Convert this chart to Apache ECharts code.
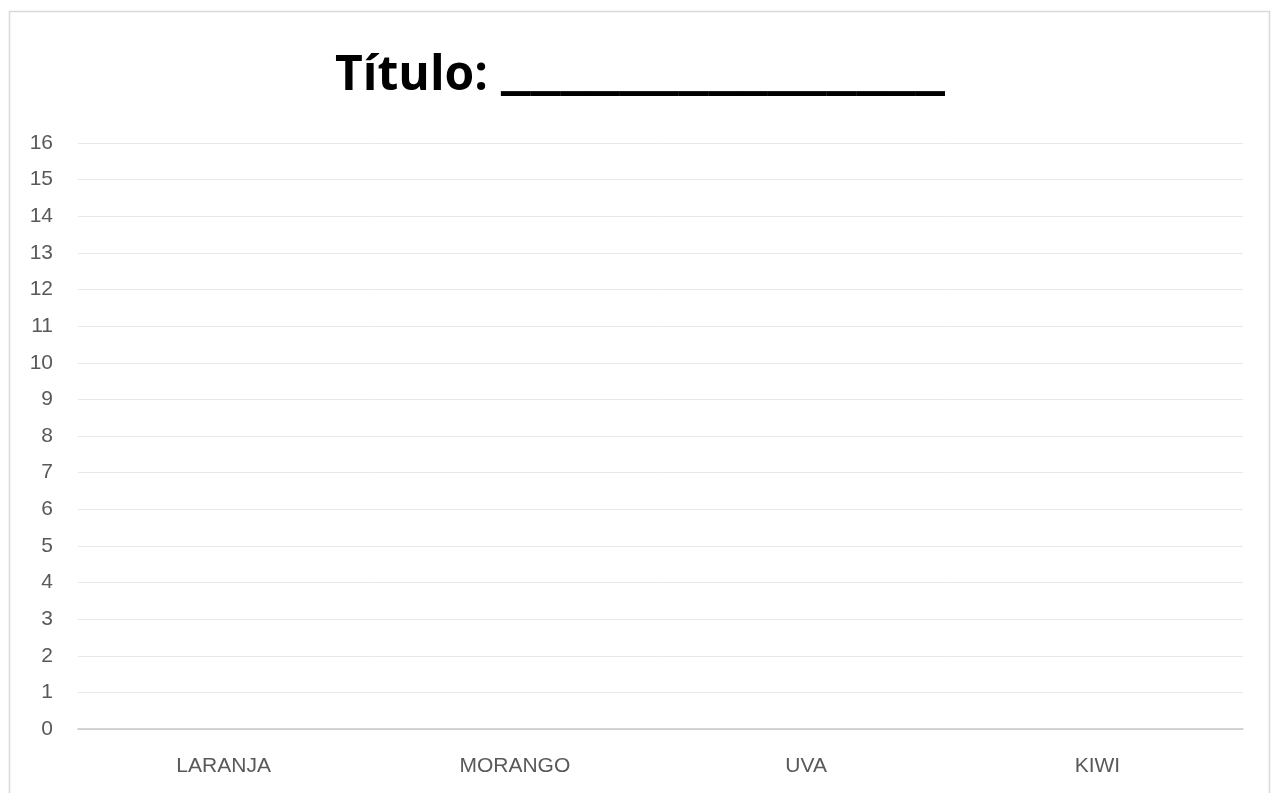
<!DOCTYPE html>
<html><head><meta charset="utf-8">
<script src="https://cdn.jsdelivr.net/npm/echarts@6/dist/echarts.min.js"></script>
<style>html,body{margin:0;padding:0;background:#fff}#c{width:1280px;height:793px}</style>
</head><body><div id="c"></div>
<script>
const titleLabel = 'Título:';
const titleBlank = '_______________';
const categories = ['LARANJA', 'MORANGO', 'UVA', 'KIWI'];
const values = [null, null, null, null];
const yMin = 0, yMax = 16, yStep = 1;

const chart = echarts.init(document.getElementById('c'));
chart.setOption({
  animation: false,
  graphic: [{type: 'rect', shape: {x: 9.5, y: 11.5, width: 1260, height: 800}, style: {fill: 'none', stroke: '#d9d9d9', lineWidth: 1.5}, silent: true}],
  title: {
    text: '{a|' + titleLabel + '}{u|' + titleBlank + '}',
    left: 'center', top: 35,
    textStyle: {
      rich: {
        a: {fontFamily: 'Open Sans', fontWeight: 'bold', fontSize: 48, color: '#000', verticalAlign: 'bottom', lineHeight: 60},
        u: {fontFamily: 'Open Sans', fontWeight: 'bold', fontSize: 72, color: '#000', verticalAlign: 'bottom', lineHeight: 60, padding: [0, 0, 0, 13]}
      }
    }
  },
  grid: {left: 78, right: 37, top: 143, bottom: 64, containLabel: false},
  xAxis: {type: 'category', data: categories,
    axisLine: {lineStyle: {color: '#c8c8c8', width: 1.5}}, axisTick: {show: false},
    axisLabel: {margin: 27, fontFamily: 'Liberation Sans', fontSize: 21, color: '#595959'}},
  yAxis: {type: 'value', min: yMin, max: yMax, interval: yStep,
    axisLine: {show: false}, axisTick: {show: false},
    splitLine: {lineStyle: {color: '#e8e8e8', width: 1}},
    axisLabel: {margin: 25, fontFamily: 'Liberation Sans', fontSize: 21, color: '#595959'}},
  series: [{type: 'bar', data: values}]
});
</script></body></html>
